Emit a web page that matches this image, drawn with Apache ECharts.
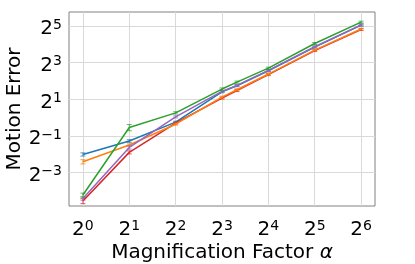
<!DOCTYPE html>
<html>
<head>
<meta charset="utf-8">
<script src="https://cdn.jsdelivr.net/npm/echarts@6/dist/echarts.min.js"></script>
<style>
html,body{margin:0;padding:0;background:#fff;}
#c{width:415px;height:264px;}
</style>
</head>
<body>
<div id="c"></div>
<script>
var xValues = [1, 2, 4, 8, 10, 16, 32, 64];
var xTicks = [1, 2, 4, 8, 16, 32, 64];
var yTicks = [0.125, 0.5, 2, 8, 32];

var blueVals   = [0.248, 0.412, 0.841, 2.657, 3.340, 5.897, 14.42, 33.13];
var blueErr    = [0.015, 0.020, 0.030, 0.10, 0.12, 0.20, 0.50, 1.2];
var orangeVals = [0.188, 0.354, 0.779, 2.173, 2.868, 5.205, 12.91, 28.64];
var orangeErr  = [0.015, 0.015, 0.030, 0.08, 0.11, 0.20, 0.45, 1.0];
var greenVals  = [0.0533, 0.688, 1.197, 2.949, 3.837, 6.498, 16.56, 37.27];
var greenErr   = [0.004, 0.080, 0.050, 0.12, 0.15, 0.25, 0.60, 1.3];
var redVals    = [0.0424, 0.268, 0.812, 2.099, 2.790, 5.098, 12.64, 28.05];
var redErr     = [0.004, 0.015, 0.030, 0.08, 0.11, 0.20, 0.45, 1.0];
var purpleVals = [0.0468, 0.323, 1.028, 2.694, 3.387, 5.98, 14.62, 33.59];
var purpleErr  = [0.003, 0.020, 0.040, 0.10, 0.13, 0.22, 0.50, 1.2];

var FONT = 'DejaVu Sans';

function powLabel(v) {
  var e = Math.round(Math.log2(v));
  var s = e < 0 ? '\u2212' + (-e) : '' + e;
  return '{b|2}{s|' + s + '}';
}
var richPow = {
  b: {fontFamily: FONT, fontSize: 20, color: '#000', lineHeight: 26, verticalAlign: 'bottom'},
  s: {fontFamily: FONT, fontSize: 14, color: '#000', lineHeight: 26, verticalAlign: 'bottom', padding: [0, 0, 7, 0]}
};

var seriesDefs = [
  {name: 'blue', color: '#1f77b4', vals: blueVals, err: blueErr},
  {name: 'red', color: '#d62728', vals: redVals, err: redErr},
  {name: 'orange', color: '#ff7f0e', vals: orangeVals, err: orangeErr},
  {name: 'purple', color: '#9467bd', vals: purpleVals, err: purpleErr},
  {name: 'green', color: '#2ca02c', vals: greenVals, err: greenErr}
];

var series = [];
seriesDefs.forEach(function (d, i) {
  var lineData = xValues.map(function (x, k) { return [x, d.vals[k]]; });
  var errData = xValues.map(function (x, k) { return [x, d.vals[k], d.err[k]]; });
  series.push({
    type: 'line', name: d.name, data: lineData, showSymbol: false,
    lineStyle: {color: d.color, width: 1.5}, itemStyle: {color: d.color},
    z: 10 + i * 2, animation: false, silent: true
  });
  series.push({
    type: 'custom', name: d.name + '_err', data: errData, z: 10 + i * 2 + 1,
    animation: false, silent: true,
    renderItem: function (params, api) {
      var x = api.value(0), y = api.value(1), e = api.value(2);
      var lo = api.coord([x, y - e]);
      var hi = api.coord([x, y + e]);
      var cw = 2.5;
      var st = {stroke: d.color, lineWidth: 1, opacity: 0.75};
      return {
        type: 'group',
        children: [
          {type: 'line', shape: {x1: lo[0], y1: lo[1], x2: hi[0], y2: hi[1]}, style: st},
          {type: 'line', shape: {x1: lo[0] - cw, y1: lo[1], x2: lo[0] + cw, y2: lo[1]}, style: st},
          {type: 'line', shape: {x1: hi[0] - cw, y1: hi[1], x2: hi[0] + cw, y2: hi[1]}, style: st}
        ]
      };
    }
  });
});

var chart = echarts.init(document.getElementById('c'), null, {renderer: 'canvas'});
chart.setOption({
  backgroundColor: '#fff',
  animation: false,
  grid: {left: 69, right: 40, top: 12, bottom: 58, show: true, borderColor: '#808080', borderWidth: 1,
    containLabel: false, outerBoundsMode: 'none'},
  xAxis: {
    type: 'log', logBase: 2,
    min: Math.pow(2, -0.3), max: Math.pow(2, 6.3),
    axisLine: {show: false}, axisTick: {show: false, customValues: xTicks},
    splitLine: {show: true, lineStyle: {color: '#d9d9d9', width: 1}, customValues: xTicks},
    axisLabel: {customValues: xTicks, formatter: powLabel, rich: richPow, margin: 8},
    name: 'Magnification Factor {i|\u03b1}', nameLocation: 'middle', nameGap: 37, nameMoveOverlap: false,
    nameTextStyle: {fontFamily: FONT, fontSize: 20, color: '#000',
      rich: {i: {fontFamily: FONT, fontSize: 20, fontStyle: 'italic', color: '#000'}}}
  },
  yAxis: {
    type: 'log', logBase: 2,
    min: Math.pow(2, -4.83), max: Math.pow(2, 5.77),
    axisLine: {show: false}, axisTick: {show: false, customValues: yTicks},
    splitLine: {show: true, lineStyle: {color: '#d9d9d9', width: 1}, customValues: yTicks},
    axisLabel: {customValues: yTicks, formatter: powLabel, rich: richPow, margin: 7},
    name: 'Motion Error', nameLocation: 'middle', nameGap: 44, nameMoveOverlap: false,
    nameTextStyle: {fontFamily: FONT, fontSize: 20, color: '#000'}
  },
  series: series
});
</script>
</body>
</html>
